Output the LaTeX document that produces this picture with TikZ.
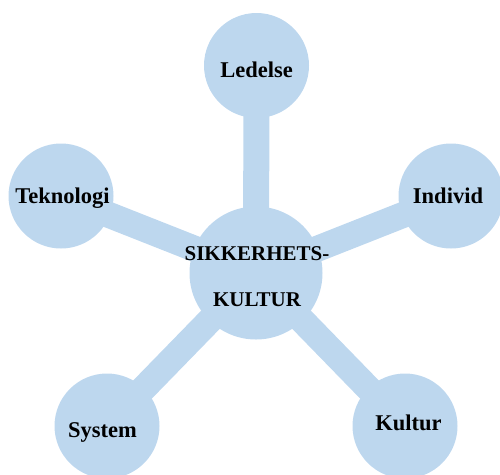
\documentclass[tikz,border=0pt]{standalone}
\usepackage{fontspec}
\setmainfont{Liberation Serif}
\usetikzlibrary{backgrounds}
\definecolor{lblue}{HTML}{BDD7EE}
\tikzset{
  bubble/.style={circle, fill=lblue, inner sep=0pt, minimum size=105pt},
  lbl/.style={inner sep=0pt, text height=15pt, text depth=0pt,
    font=\fontsize{22.5}{27}\selectfont\bfseries},
  hub/.style={circle, fill=lblue, inner sep=0pt, minimum size=133pt},
  hubtext/.style={align=center, inner sep=0pt, font=\fontsize{21}{25}\selectfont\bfseries},
  bar/.style={draw=lblue, line width=26pt}
}
\begin{document}
\begin{tikzpicture}[x=1pt,y=-1pt]
\useasboundingbox (0,0) rectangle (500,474);
\node[hub] (c) at (256,273) {};
\node[hubtext] (ct) at (257,277) {SIKKERHETS-\\[21pt]KULTUR};
\node[bubble, label={[lbl, yshift=-4pt]center:Ledelse}] (l) at (256.5,65.5) {};
\node[bubble, label={[lbl, xshift=1.5pt]center:Teknologi}] (t) at (61,196) {};
\node[bubble, label={[lbl, xshift=-3pt]center:Individ}] (i) at (451,196) {};
\node[bubble, label={[lbl, xshift=-4.5pt, yshift=-4pt]center:System}] (s) at (107,426) {};
\node[bubble, label={[lbl, xshift=3.5pt, yshift=3.5pt]center:Kultur}] (k) at (405,426) {};
\begin{scope}[on background layer]
\draw[bar] (c.center) -- (l.center);
\draw[bar] (c.center) -- (t.center);
\draw[bar] (c.center) -- (i.center);
\draw[bar] (c.center) -- (s.center);
\draw[bar] (c.center) -- (k.center);
\end{scope}
\end{tikzpicture}
\end{document}
